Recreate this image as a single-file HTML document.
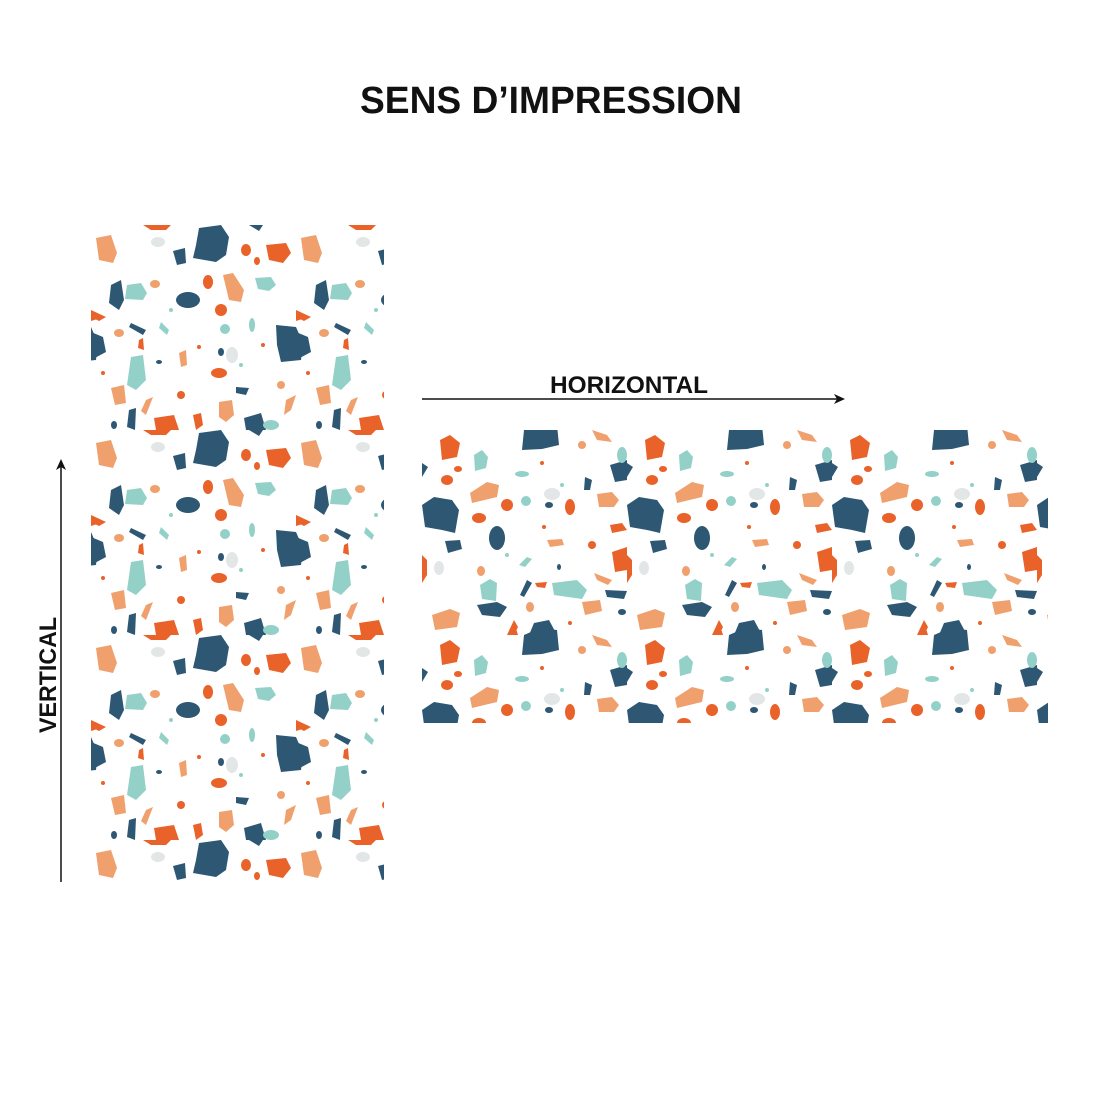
<!DOCTYPE html>
<html><head><meta charset="utf-8"><style>
html,body{margin:0;padding:0;background:#fff;}
svg{display:block}
</style></head><body>
<svg width="1100" height="1100" viewBox="0 0 1100 1100" xmlns="http://www.w3.org/2000/svg">
<defs>
<g id="tile">
  <polygon points="5,13 20,10 26,28 22,38 8,35" fill="#f0a06c"/>
  <polygon points="108,3 130,0 138,12 135,30 125,37 102,33 105,20" fill="#2d5773"/>
  <polygon points="82,26 94,23 95,38 86,40" fill="#2d5773"/>
  <polygon points="52,0 80,0 75,5 60,5" fill="#e8622a"/>
  <polygon points="158,0 172,0 168,6" fill="#2d5773"/>
  <ellipse cx="67" cy="17" rx="7" ry="5" fill="#e3e6e6"/>
  <ellipse cx="155" cy="25" rx="5" ry="6" fill="#e8622a"/>
  <ellipse cx="166" cy="36" rx="3" ry="4" fill="#e8622a"/>
  <polygon points="175,20 195,18 200,28 192,38 178,35" fill="#e8622a"/>
  <polygon points="132,50 142,48 153,65 150,77 138,75" fill="#f0a06c"/>
  <polygon points="36,60 50,58 56,68 52,75 34,74" fill="#93d1c8"/>
  <polygon points="20,60 30,55 33,75 28,85 18,78" fill="#2d5773"/>
  <ellipse cx="97" cy="75" rx="12" ry="8" fill="#2d5773"/>
  <polygon points="164,53 180,52 185,60 178,66 167,64" fill="#93d1c8"/>
  <ellipse cx="117" cy="57" rx="5" ry="7" fill="#e8622a"/>
  <ellipse cx="64" cy="59" rx="5" ry="4" fill="#f0a06c"/>
  <ellipse cx="130" cy="85" rx="6" ry="6" fill="#e8622a"/>
  <polygon points="0,85 15,92 8,96 0,92" fill="#e8622a"/>
  <polygon points="205,88 218,92 205,96" fill="#e8622a"/>
  <polygon points="40,98 55,105 52,110 38,102" fill="#2d5773"/>
  <polygon points="185,100 205,102 212,118 210,135 190,137 186,120" fill="#2d5773"/>
  <polygon points="0,107 12,112 15,127 0,135" fill="#2d5773"/>
  <polygon points="70,97 78,105 76,110 68,103" fill="#93d1c8"/>
  <ellipse cx="134" cy="104" rx="5" ry="5" fill="#93d1c8"/>
  <ellipse cx="161" cy="100" rx="3" ry="7" fill="#93d1c8"/>
  <ellipse cx="28" cy="108" rx="5" ry="4" fill="#f0a06c"/>
  <polygon points="48,115 52,113 53,125 47,123" fill="#e8622a"/>
  <polygon points="40,132 52,130 55,155 45,165 36,160" fill="#93d1c8"/>
  <ellipse cx="128" cy="148" rx="8" ry="5" fill="#e8622a"/>
  <polygon points="88,128 95,125 96,140 90,142" fill="#f0a06c"/>
  <ellipse cx="141" cy="130" rx="6" ry="8" fill="#e3e6e6"/>
  <ellipse cx="130" cy="127" rx="3" ry="4" fill="#2d5773"/>
  <ellipse cx="68" cy="137" rx="3" ry="2" fill="#2d5773"/>
  <polygon points="20,163 33,160 35,178 24,180" fill="#f0a06c"/>
  <polygon points="55,175 62,172 55,190 50,186" fill="#f0a06c"/>
  <polygon points="145,162 158,163 155,170 145,168" fill="#2d5773"/>
  <ellipse cx="190" cy="160" rx="4" ry="4" fill="#f0a06c"/>
  <polygon points="128,177 141,175 143,190 135,197 128,192" fill="#f0a06c"/>
  <polygon points="63,193 83,190 88,205 65,205" fill="#e8622a"/>
  <polygon points="153,193 170,188 175,205 155,205" fill="#2d5773"/>
  <polygon points="38,185 45,183 44,205 36,202" fill="#2d5773"/>
  <ellipse cx="90" cy="170" rx="4" ry="4" fill="#e8622a"/>
  <ellipse cx="180" cy="200" rx="8" ry="5" fill="#93d1c8"/>
  <polygon points="102,190 110,188 112,200 105,205" fill="#e8622a"/>
  <polygon points="195,175 205,170 200,185 193,190" fill="#f0a06c"/>
  <ellipse cx="23" cy="200" rx="3" ry="4" fill="#2d5773"/>
  <ellipse cx="108" cy="122" rx="2" ry="2" fill="#e8622a"/>
  <ellipse cx="150" cy="140" rx="2" ry="2" fill="#93d1c8"/>
  <ellipse cx="80" cy="85" rx="2" ry="2" fill="#93d1c8"/>
  <ellipse cx="12" cy="148" rx="2" ry="2" fill="#e8622a"/>
  <ellipse cx="172" cy="120" rx="2" ry="2" fill="#e8622a"/>
</g>
<pattern id="pv" x="91" y="225" width="205" height="205" patternUnits="userSpaceOnUse">
  <use href="#tile"/><use href="#tile" x="-205"/><use href="#tile" y="-205"/>
</pattern>
<pattern id="ph" x="422" y="430" width="205" height="205" patternUnits="userSpaceOnUse" patternTransform="rotate(-90 422 430)">
  <use href="#tile"/><use href="#tile" x="-205"/><use href="#tile" y="-205"/>
</pattern>
</defs>
<rect width="1100" height="1100" fill="#fff"/>
<text x="551" y="113" text-anchor="middle" font-family="Liberation Sans, sans-serif" font-weight="bold" font-size="38" textLength="382" lengthAdjust="spacingAndGlyphs" fill="#111">SENS D’IMPRESSION</text>
<rect x="91" y="225" width="293" height="657" fill="url(#pv)"/>
<rect x="422" y="430" width="626" height="293" fill="url(#ph)"/>
<text x="629" y="393" text-anchor="middle" font-family="Liberation Sans, sans-serif" font-weight="bold" font-size="24" textLength="158" lengthAdjust="spacingAndGlyphs" fill="#111">HORIZONTAL</text>
<line x1="422" y1="399" x2="838" y2="399" stroke="#111" stroke-width="1.5"/>
<polygon points="845,399 834,394 837,399 834,404" fill="#111"/>
<text transform="translate(56 675) rotate(-90)" text-anchor="middle" font-family="Liberation Sans, sans-serif" font-weight="bold" font-size="24" textLength="116" lengthAdjust="spacingAndGlyphs" fill="#111">VERTICAL</text>
<line x1="61" y1="467" x2="61" y2="882" stroke="#111" stroke-width="1.5"/>
<polygon points="61,459 56,470 61,467 66,470" fill="#111"/>
</svg>
</body></html>
